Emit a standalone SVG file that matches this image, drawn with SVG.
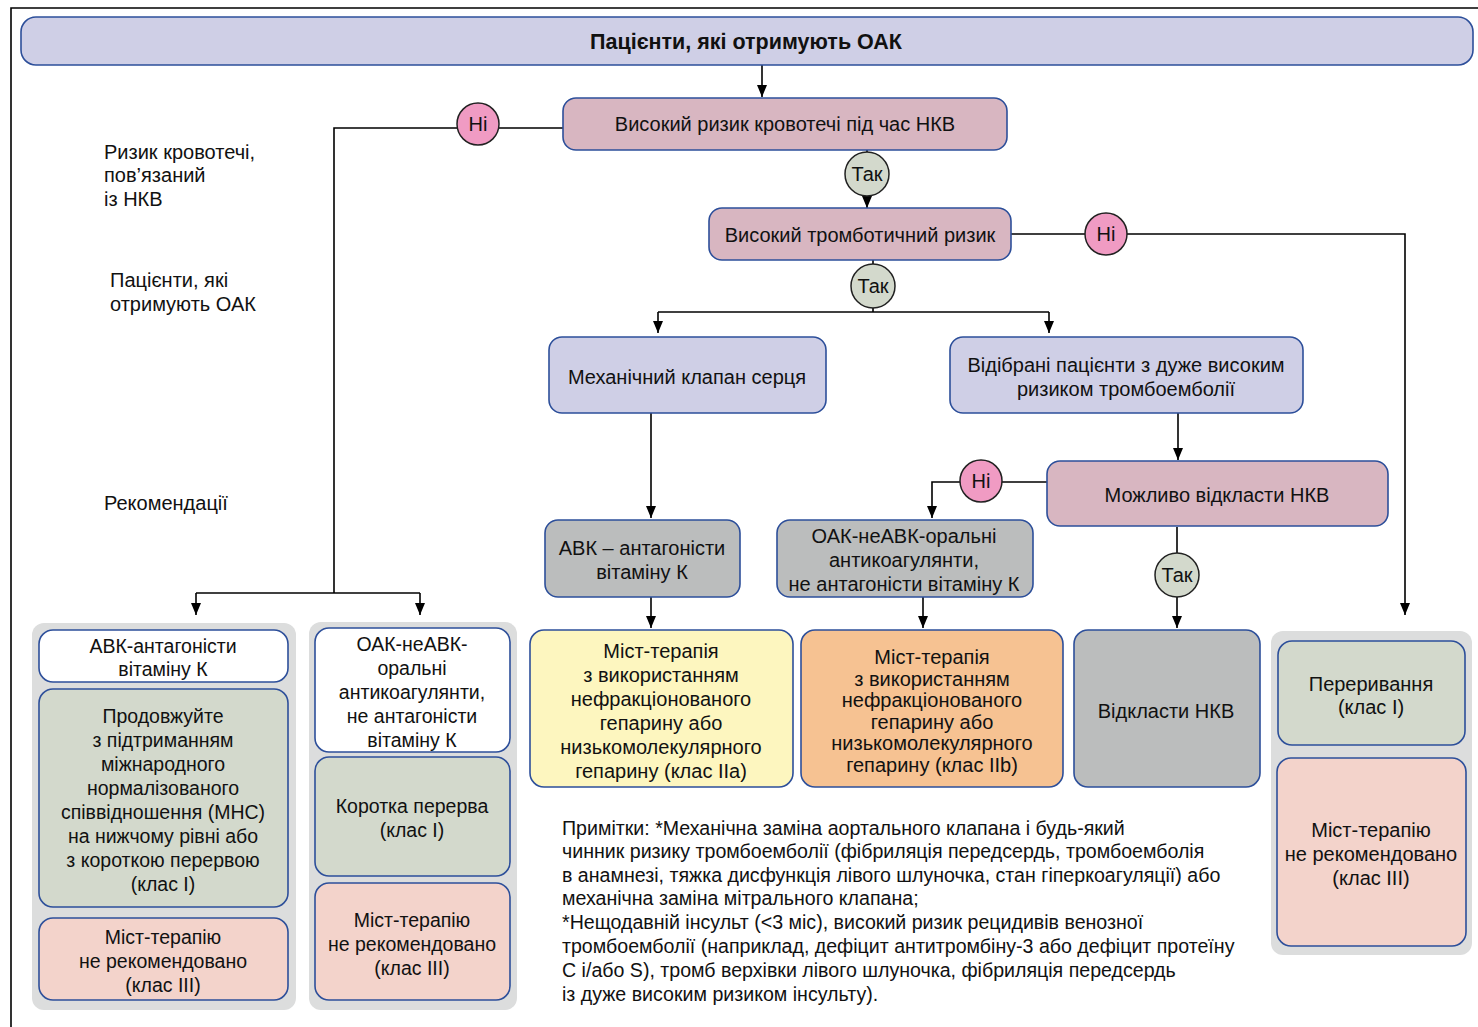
<svg xmlns="http://www.w3.org/2000/svg" width="1478" height="1027" viewBox="0 0 1478 1027">
<defs>
<marker id="ah" viewBox="0 0 12 10" refX="12" refY="5" markerWidth="12" markerHeight="10" markerUnits="userSpaceOnUse" orient="auto">
<path d="M0,0 L12,5 L0,10 z" fill="#000"/>
</marker>
<style>
text{font-family:"Liberation Sans","Noto Sans",Arial,sans-serif;font-size:20px;fill:#111;}
.c{text-anchor:middle;}
.b{stroke:#2d4f9a;stroke-width:1.6;}
.lav{fill:#cfcfe6;}
.ros{fill:#d8b6c1;}
.gry{fill:#bbbdbd;}
.wht{fill:#ffffff;}
.grn{fill:#d3d9cc;}
.pnk{fill:#f3d3cb;}
.yel{fill:#fdf6bf;}
.org{fill:#f6c292;}
.pan{fill:#dcdddd;}
.ni{fill:#f09bc3;stroke:#222;stroke-width:1.5;}
.tak{fill:#d3d9cc;stroke:#222;stroke-width:1.5;}
.ln{fill:none;stroke:#000;stroke-width:1.6;}
.note{font-size:19.6px;}
.p{font-size:19.5px;}
</style>
</defs>
<rect width="1478" height="1027" fill="#fff"/>
<path d="M11,1027 V8 H1478" fill="none" stroke="#000" stroke-width="1.6"/>

<g id="connectors">
<line class="ln" x1="762" y1="65" x2="762" y2="97" marker-end="url(#ah)"/>
<path class="ln" d="M563,128 H334 V593"/>
<line class="ln" x1="196" y1="593" x2="420" y2="593"/>
<line class="ln" x1="196" y1="593" x2="196" y2="615" marker-end="url(#ah)"/>
<line class="ln" x1="420" y1="593" x2="420" y2="615" marker-end="url(#ah)"/>
<line class="ln" x1="867" y1="150" x2="867" y2="208" marker-end="url(#ah)"/>
<path class="ln" d="M1011,234 H1405 V615" marker-end="url(#ah)"/>
<line class="ln" x1="873" y1="260" x2="873" y2="312"/>
<line class="ln" x1="658" y1="312" x2="1049" y2="312"/>
<line class="ln" x1="658" y1="312" x2="658" y2="333" marker-end="url(#ah)"/>
<line class="ln" x1="1049" y1="312" x2="1049" y2="333" marker-end="url(#ah)"/>
<line class="ln" x1="651" y1="413" x2="651" y2="518" marker-end="url(#ah)"/>
<line class="ln" x1="1178" y1="413" x2="1178" y2="460" marker-end="url(#ah)"/>
<path class="ln" d="M1047,482 H932 V518" marker-end="url(#ah)"/>
<line class="ln" x1="651" y1="597" x2="651" y2="628" marker-end="url(#ah)"/>
<line class="ln" x1="923" y1="597" x2="923" y2="628" marker-end="url(#ah)"/>
<line class="ln" x1="1177" y1="527" x2="1177" y2="628" marker-end="url(#ah)"/>
</g>

<g id="labels">
<text x="104" y="159">Ризик кровотечі,</text>
<text x="104" y="182">пов’язаний</text>
<text x="104" y="206">із НКВ</text>
<text x="110" y="287">Пацієнти, які</text>
<text x="110" y="311">отримують ОАК</text>
<text x="104" y="510">Рекомендації</text>
</g>

<g id="n-title">
<rect class="b lav" x="21" y="17" width="1452" height="48" rx="15"/>
<text class="c" x="746" y="49" style="font-weight:bold;font-size:21.5px">Пацієнти, які отримують ОАК</text>
</g>

<g id="n-bleed">
<rect class="b ros" x="563" y="98" width="444" height="52" rx="13"/>
<text class="c" x="785" y="131">Високий ризик кровотечі під час НКВ</text>
</g>
<g id="d-ni1">
<circle class="ni" cx="478" cy="124" r="21"/>
<text class="c" x="478" y="131">Ні</text>
</g>
<g id="d-tak1">
<circle class="tak" cx="867" cy="174" r="22"/>
<text class="c" x="867" y="181">Так</text>
</g>

<g id="n-thromb">
<rect class="b ros" x="709" y="208" width="302" height="52" rx="13"/>
<text class="c" x="860" y="242">Високий тромботичний ризик</text>
</g>
<g id="d-ni2">
<circle class="ni" cx="1106" cy="234" r="21"/>
<text class="c" x="1106" y="241">Ні</text>
</g>
<g id="d-tak2">
<circle class="tak" cx="873" cy="286" r="22"/>
<text class="c" x="873" y="293">Так</text>
</g>

<g id="n-mech">
<rect class="b lav" x="549" y="337" width="277" height="76" rx="13"/>
<text class="c" x="687" y="384">Механічний клапан серця</text>
</g>
<g id="n-selected">
<rect class="b lav" x="950" y="337" width="353" height="76" rx="13"/>
<text class="c" x="1126" y="372">Відібрані пацієнти з дуже високим</text>
<text class="c" x="1126" y="396">ризиком тромбоемболії</text>
</g>

<g id="n-postpone-q">
<rect class="b ros" x="1047" y="461" width="341" height="65" rx="13"/>
<text class="c" x="1217" y="502">Можливо відкласти НКВ</text>
</g>
<g id="d-ni3">
<circle class="ni" cx="981" cy="481" r="21"/>
<text class="c" x="981" y="488">Ні</text>
</g>
<g id="d-tak3">
<circle class="tak" cx="1177" cy="575" r="22"/>
<text class="c" x="1177" y="582">Так</text>
</g>

<g id="n-avk">
<rect class="b gry" x="545" y="520" width="195" height="77" rx="13"/>
<text class="c" x="642" y="555">АВК – антагоністи</text>
<text class="c" x="642" y="579">вітаміну К</text>
</g>
<g id="n-noac">
<rect class="b gry" x="777" y="520" width="256" height="77" rx="13"/>
<text class="c" x="904" y="543">ОАК-неАВК-оральні</text>
<text class="c" x="904" y="567">антикоагулянти,</text>
<text class="c" x="904" y="591">не антагоністи вітаміну К</text>
</g>

<g id="n-bridge-iia">
<rect class="b yel" x="530" y="630" width="263" height="157" rx="14"/>
<text class="c" x="661" y="658">Міст-терапія</text>
<text class="c" x="661" y="682">з використанням</text>
<text class="c" x="661" y="706">нефракціонованого</text>
<text class="c" x="661" y="730">гепарину або</text>
<text class="c" x="661" y="754">низькомолекулярного</text>
<text class="c" x="661" y="778">гепарину (клас IIa)</text>
</g>
<g id="n-bridge-iib">
<rect class="b org" x="801" y="630" width="262" height="157" rx="14"/>
<text class="c" x="932" y="664">Міст-терапія</text>
<text class="c" x="932" y="686">з використанням</text>
<text class="c" x="932" y="707">нефракціонованого</text>
<text class="c" x="932" y="729">гепарину або</text>
<text class="c" x="932" y="750">низькомолекулярного</text>
<text class="c" x="932" y="772">гепарину (клас IIb)</text>
</g>
<g id="n-postpone">
<rect class="b gry" x="1074" y="630" width="186" height="157" rx="14"/>
<text class="c" x="1166" y="718">Відкласти НКВ</text>
</g>

<g id="n-right-panel">
<rect class="pan" x="1271" y="631" width="201" height="324" rx="12"/>
<rect class="b grn" x="1278" y="641" width="187" height="104" rx="14"/>
<text class="c" x="1371" y="691">Переривання</text>
<text class="c" x="1371" y="714">(клас I)</text>
<rect class="b pnk" x="1277" y="758" width="189" height="188" rx="14"/>
<text class="c" x="1371" y="837">Міст-терапію</text>
<text class="c" x="1371" y="861">не рекомендовано</text>
<text class="c" x="1371" y="885">(клас III)</text>
</g>

<g id="n-left-panel-avk">
<rect class="pan" x="32" y="623" width="264" height="387" rx="12"/>
<rect class="b wht" x="39" y="630" width="249" height="52" rx="14"/>
<text class="c p" x="163" y="653">АВК-антагоністи</text>
<text class="c p" x="163" y="676">вітаміну К</text>
<rect class="b grn" x="39" y="689" width="249" height="218" rx="14"/>
<text class="c p" x="163" y="723">Продовжуйте</text>
<text class="c p" x="163" y="747">з підтриманням</text>
<text class="c p" x="163" y="771">міжнародного</text>
<text class="c p" x="163" y="795">нормалізованого</text>
<text class="c p" x="163" y="819">співвідношення (МНС)</text>
<text class="c p" x="163" y="843">на нижчому рівні або</text>
<text class="c p" x="163" y="867">з короткою перервою</text>
<text class="c p" x="163" y="891">(клас I)</text>
<rect class="b pnk" x="39" y="918" width="249" height="82" rx="14"/>
<text class="c p" x="163" y="944">Міст-терапію</text>
<text class="c p" x="163" y="968">не рекомендовано</text>
<text class="c p" x="163" y="992">(клас III)</text>
</g>

<g id="n-left-panel-noac">
<rect class="pan" x="309" y="622" width="208" height="388" rx="12"/>
<rect class="b wht" x="315" y="628" width="195" height="124" rx="14"/>
<text class="c p" x="412" y="651">ОАК-неАВК-</text>
<text class="c p" x="412" y="675">оральні</text>
<text class="c p" x="412" y="699">антикоагулянти,</text>
<text class="c p" x="412" y="723">не антагоністи</text>
<text class="c p" x="412" y="747">вітаміну К</text>
<rect class="b grn" x="315" y="757" width="195" height="119" rx="14"/>
<text class="c p" x="412" y="813">Коротка перерва</text>
<text class="c p" x="412" y="837">(клас I)</text>
<rect class="b pnk" x="315" y="883" width="195" height="117" rx="14"/>
<text class="c p" x="412" y="927">Міст-терапію</text>
<text class="c p" x="412" y="951">не рекомендовано</text>
<text class="c p" x="412" y="975">(клас III)</text>
</g>

<g id="notes">
<text class="note" x="562" y="835">Примітки: *Механічна заміна аортального клапана і будь-який</text>
<text class="note" x="562" y="858">чинник ризику тромбоемболії (фібриляція передсердь, тромбоемболія</text>
<text class="note" x="562" y="882">в анамнезі, тяжка дисфункція лівого шлуночка, стан гіперкоагуляції) або</text>
<text class="note" x="562" y="905">механічна заміна мітрального клапана;</text>
<text class="note" x="562" y="929">*Нещодавній інсульт (&lt;3 міс), високий ризик рецидивів венозної</text>
<text class="note" x="562" y="953">тромбоемболії (наприклад, дефіцит антитромбіну-3 або дефіцит протеїну</text>
<text class="note" x="562" y="977">С і/або S), тромб верхівки лівого шлуночка, фібриляція передсердь</text>
<text class="note" x="562" y="1001">із дуже високим ризиком інсульту).</text>
</g>
</svg>
